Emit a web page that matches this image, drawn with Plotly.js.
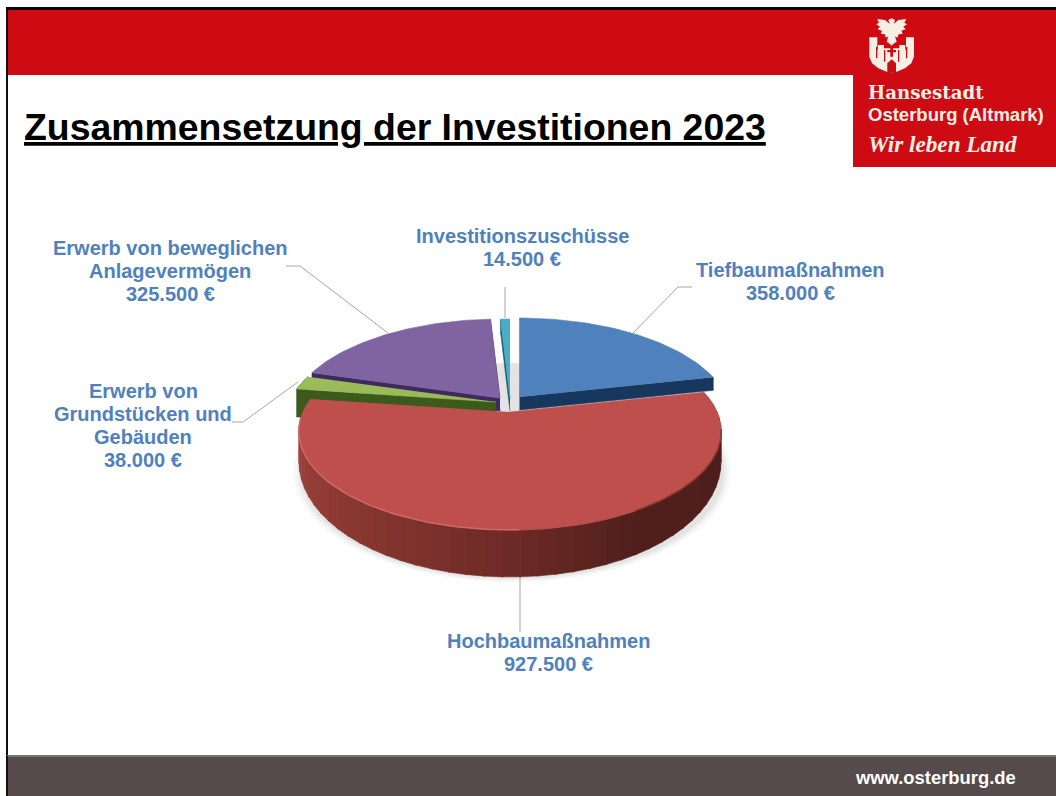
<!DOCTYPE html>
<html><head><meta charset="utf-8">
<script src="https://cdn.plot.ly/plotly-3.0.1.min.js"></script>
<style>html,body{margin:0;padding:0;background:#fff}#c{width:1056px;height:796px}</style>
</head><body><div id="c"></div>
<script>
// ---- chart data ----
const categories = ['Tiefbaumaßnahmen','Hochbaumaßnahmen','Erwerb von<br>Grundstücken und<br>Gebäuden','Erwerb von beweglichen<br>Anlagevermögen','Investitionszuschüsse'];
const values = [358000,927500,38000,325500,14500];
const chartTitle = 'Zusammensetzung der Investitionen 2023';

// ---- styling ----
const topColors = ['#4f81bd','#bf4f4c','#9bbb59','#8064a2','#4bacc6'];
const cutColors = ['#17375e','#632523','#3b5a1b','#3f2a5f','#1b5e6e'];
const apexX = [519.5,510,496,500,510];
const apexY = [397,412,402,398,398];
const labelX = [790,548,143,170,522];
const labelY = [270,641,391,248,236];
const R = 207, B = 94.6, K = 0.198;
const BLUE = '#4f81bd', BASE = "'Liberation Sans', Arial, sans-serif", SERIF = "'DejaVu Serif', serif", SERIF2 = "'Liberation Serif', serif";
const CREAM = '#f7efe4', RED = '#ce0a12';

const total = values.reduce((a,b)=>a+b,0);
const startA = [], endA = [];
{ let a = 0; values.forEach(v => { startA.push(a); a += v/total*360; endA.push(a); }); }

function rim(i, deg, drop) {
  const t = deg*Math.PI/180, u = Math.sin(t), v = Math.cos(t), s = 1/(1+K*v);
  return [apexX[i] + R*u*s, apexY[i] - B*v*s + (drop||0)];
}
function arc(i, a0, a1, dropFn) {
  const n = Math.max(2, Math.ceil(Math.abs(a1-a0)/1.5)), pts = [];
  for (let k=0;k<=n;k++){ const d=a0+(a1-a0)*k/n; pts.push(rim(i,d,dropFn?dropFn(d):0)); }
  return pts;
}
function poly(pts, color, name, opacity) {
  return {type:'scatter',mode:'lines',x:pts.map(p=>p[0]),y:pts.map(p=>p[1]),fill:'toself',fillcolor:color,
    line:{color:color,width:opacity?0:0.6},opacity:opacity||1,hoverinfo:'skip',showlegend:false,name:name};
}
function line(pts,color,width){
  return {type:'scatter',mode:'lines',x:pts.map(p=>p[0]),y:pts.map(p=>p[1]),line:{color:color,width:width},hoverinfo:'skip',showlegend:false};
}
function cut(i, deg, depth) {
  const a=[apexX[i],apexY[i]], r=rim(i,deg);
  return poly([a,r,[r[0],r[1]+depth],[a[0],a[1]+depth]],cutColors[i],'cut');
}
function wedge(i){
  return poly([[apexX[i],apexY[i]]].concat(arc(i,startA[i],endA[i])),topColors[i],categories[i]);
}
function hex(c){return [1,3,5].map(k=>parseInt(c.substr(k,2),16));}
const stops=[[70,'#5e2623'],[100,'#4c1e1b'],[150,'#4f1f1b'],[180,'#6e2a27'],[215,'#86362f'],[250,'#9a403c'],[285,'#a54644']];
function shade(d){
  for(let k=0;k<stops.length-1;k++){
    if(d<=stops[k+1][0]){
      const f=(d-stops[k][0])/(stops[k+1][0]-stops[k][0]),a=hex(stops[k][1]),b=hex(stops[k+1][1]);
      return 'rgb('+a.map((x,j)=>Math.round(x+(b[j]-x)*f)).join(',')+')';
    }
  }
  return stops[stops.length-1][1];
}
const depth = d => 25 - 22*Math.cos(d*Math.PI/180);

const traces = [];
// soft ground shadow
[[214,0.08],[211,0.10],[208,0.12]].forEach(([rx,op])=>{
  const pts=[];
  for(let d=0;d<=360;d+=3){const t=d*Math.PI/180,u=Math.sin(t),v=Math.cos(t),s=1/(1+K*v);
    pts.push([512+rx*u*s,450-(rx/214)*B*v*s*1.12]);}
  traces.push(poly(pts,'#9a9a9a','shadow',op));
});
// teal, blue, purple, green, red — back to front
traces.push(cut(4,startA[4],13), wedge(4));
traces.push(cut(0,endA[0],13), wedge(0));
traces.push(cut(3,startA[3],13), cut(3,endA[3],13), wedge(3));
traces.push(poly(arc(2,startA[2],endA[2]).concat(arc(2,endA[2],startA[2],()=>28)),cutColors[2],'side'));
traces.push(cut(2,startA[2],28), wedge(2));
// red slice: outer wall as shaded strips, then top
{
  const a0=startA[1],a1=endA[1],step=4;
  for(let d=a0;d<a1;d+=step){
    const e=Math.min(a1,d+step+0.5);
    const pts=arc(1,d,e).concat(arc(1,e,d,depth));
    traces.push(poly(pts,shade((d+e)/2),'wall'));
  }
  traces.push(wedge(1));
  traces.push(line(arc(1,178,266),'#cf6a64',1.5));
  traces.push(line(arc(1,100,150),'#8f3734',1.5));
  traces.push(line(arc(1,150,178),'#b05050',1.2));
}

// ---- page furniture ----
const rect=(x0,y0,x1,y1,c,extra)=>Object.assign({type:'rect',xref:'x',yref:'y',x0,y0,x1,y1,fillcolor:c,line:{width:0},layer:'below'},extra||{});
const seg=(x0,y0,x1,y1)=>({type:'line',xref:'x',yref:'y',x0,y0,x1,y1,line:{color:'#a6a6a6',width:1},layer:'above'});
const Z=p=>[840+p[0]/3,p[1]/3];
const path=(pts,c)=>({type:'path',xref:'x',yref:'y',path:'M'+pts.map(p=>Z(p).map(n=>n.toFixed(1)).join(',')).join('L')+'Z',fillcolor:c,line:{width:0},layer:'above'});
const mir=h=>h.concat(h.slice().reverse().map(p=>[310-p[0],p[1]]));
const eagle=[[155,55],[165,60],[161,72],[175,60],[199,57],[193,68],[201,73],[190,80],[197,88],[184,92],[188,101],[176,103],[172,113],[165,109],[170,125],[160,132],[155,137]];
const castle=[[155,145],[178,145],[178,135],[196,135],[196,150],[198,150],[198,112],[222,112],[222,170],[214,190],[195,205],[170,215],[155,217]];
const shapes=[
  rect(6,8,1056,75,RED),
  rect(853,75,1056,167,RED),
  rect(6,7,1056,10,'#120404'),
  rect(6,10,8,796,'#111111'),
  rect(7,756,1056,796,'#554a4c'),
  rect(7,755,1056,757,'#7a7274'),
  rect(6,756,8,796,'#111111'),
  path(mir(eagle),CREAM),
  path(mir(castle),CREAM),
  path([[142,217],[142,190],[155,178],[168,190],[168,217]],RED),
  path([[151,140],[159,140],[159,150],[168,150],[168,157],[159,157],[159,170],[151,170],[151,157],[142,157],[142,150],[151,150]],RED),
  path([[108,140],[112,140],[112,175],[108,175]],RED),
  path([[198,140],[202,140],[202,175],[198,175]],RED),
  path([[132,150],[136,150],[136,185],[132,185]],RED),
  path([[174,150],[178,150],[178,185],[174,185]],RED),
  seg(505,287,505,318),
  seg(692,287,678,287), seg(678,287,633,333),
  seg(286,266,300,266), seg(300,266,388,333),
  seg(232,422,243,422), seg(243,422,298,382),
  seg(520,577,520,632)
];

const money=v=>String(v).replace(/\B(?=(\d{3})+$)/g,'.')+' €';
const note=(text,x,y,size,family,color,xanchor)=>({text,x,y,xref:'x',yref:'y',showarrow:false,
  xanchor:xanchor||'center',yanchor:'middle',align:xanchor||'center',font:{size,family,color}});
const annotations=[];
categories.forEach((c,i)=>{
  c.split('<br>').concat(money(values[i])).forEach((t,k)=>{
    annotations.push(note('<b>'+t+'</b>',labelX[i],labelY[i]+k*23,20,BASE,BLUE));
  });
});
annotations.push(
  note('<b><u>'+chartTitle+'</u></b>',22,127,37.4,BASE,'#000000','left'),
  note('<b>Hansestadt</b>',866,92,18.2,SERIF,CREAM,'left'),
  note('<b>Osterburg (Altmark)</b>',866,114,18.5,BASE,CREAM,'left'),
  note('<b><i>Wir leben Land</i></b>',866,144,23.2,SERIF2,CREAM,'left'),
  note('<b>www.osterburg.de</b>',1018,777,18.4,BASE,'#ffffff','right')
);

Plotly.newPlot('c',traces,{
  width:1056,height:796,margin:{l:0,r:0,t:0,b:0},
  paper_bgcolor:'#ffffff',plot_bgcolor:'rgba(0,0,0,0)',showlegend:false,hovermode:false,
  xaxis:{range:[0,1056],visible:false,fixedrange:true},
  yaxis:{range:[796,0],visible:false,fixedrange:true},
  shapes,annotations
},{displayModeBar:false,responsive:false});
</script></body></html>
